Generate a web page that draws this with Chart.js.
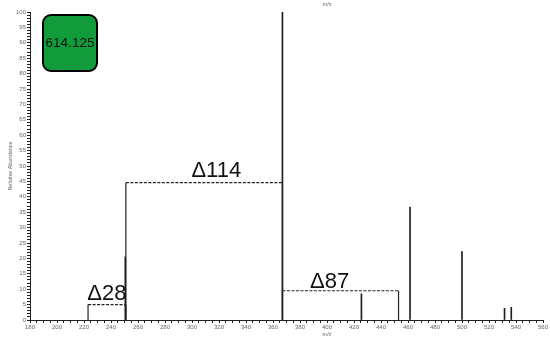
<!DOCTYPE html>
<html>
<head>
<meta charset="utf-8">
<script src="https://cdn.jsdelivr.net/npm/chart.js@4.4.0/dist/chart.umd.min.js"></script>
<style>
  html, body { margin: 0; padding: 0; background: #fff; }
  #wrap { width: 550px; height: 337px; }
</style>
</head>
<body>
<div id="wrap"><canvas id="spectrum"></canvas></div>
<script>
// --- spectrum data (m/z vs relative abundance) ---
const peakMz = [250.6, 367, 425.5, 461.5, 500, 531.5, 536.5];
const peakAbund = [20.5, 100, 8.5, 36.7, 22.2, 3.8, 4.1];

// --- mass-difference brackets ---
const bracketFrom = [223, 251, 367];
const bracketTo = [251, 367, 453];
const bracketLevel = [5, 44.6, 9.5];
const bracketText = ['Δ28', 'Δ114', 'Δ87'];
const bracketTextMz = [237, 318, 402];
const bracketTextY = [6.5, 46.3, 10.5];

const precursorLabel = '614.125';
const xMin = 180, xMax = 560, xStep = 5, xLabelEvery = 20;
const yMin = 0, yMax = 100, yStep = 1, yLabelEvery = 5;

const FONT = "'Liberation Sans', Arial, sans-serif";

const datasets = [{
    type: 'bar',
    data: peakMz.map((m, i) => ({ x: m, y: peakAbund[i] })),
    backgroundColor: '#1e1e1e',
    barThickness: 1,
    order: 2
}];

bracketFrom.forEach(function(f, i) {
    datasets.push({
        type: 'line',
        data: [
            { x: f, y: 0 }, { x: f, y: bracketLevel[i] },
            { x: bracketTo[i], y: bracketLevel[i] }, { x: bracketTo[i], y: 0 }
        ],
        borderColor: '#222',
        borderWidth: 1.2,
        pointRadius: 0,
        fill: false,
        tension: 0,
        segment: {
            borderDash: ctx => ctx.p0DataIndex === 1 ? [3, 1.5] : undefined
        },
        order: 1
    });
});

// texts: deltas, box, axis titles
const annotations = {
    id: 'annotations',
    afterDraw(chart) {
        const c = chart.ctx, xs = chart.scales.x, ys = chart.scales.y, area = chart.chartArea;
        c.save();
        c.fillStyle = '#111';
        c.font = '22px ' + FONT;
        c.textAlign = 'center';
        c.textBaseline = 'alphabetic';
        bracketText.forEach(function(t, i) {
            c.fillText(t, xs.getPixelForValue(bracketTextMz[i]), ys.getPixelForValue(bracketTextY[i]));
        });

        // precursor box
        const bx = 43, by = 15, bw = 54, bh = 56, r = 8;
        c.beginPath();
        c.roundRect(bx, by, bw, bh, r);
        c.fillStyle = '#119b3b';
        c.fill();
        c.lineWidth = 2;
        c.strokeStyle = '#000';
        c.stroke();
        c.fillStyle = '#111';
        c.font = '13.5px ' + FONT;
        c.textBaseline = 'middle';
        c.fillText(precursorLabel, bx + bw / 2, by + bh / 2);

        // axis titles
        c.fillStyle = '#666';
        c.font = '5.5px ' + FONT;
        const mzX = xs.getPixelForValue(400);
        c.fillText('m/z', mzX, 4);
        c.fillText('m/z', mzX, 334);
        c.translate(10, (area.top + area.bottom) / 2);
        c.rotate(-Math.PI / 2);
        c.fillText('Relative Abundance', 0, 0);
        c.restore();
    }
};

new Chart(document.getElementById('spectrum'), {
    data: { datasets: datasets },
    options: {
        responsive: true,
        maintainAspectRatio: false,
        animation: false,
        layout: { padding: { top: 12, right: 7, left: 0, bottom: 0 } },
        plugins: { legend: { display: false }, tooltip: { enabled: false } },
        scales: {
            x: {
                type: 'linear',
                min: xMin, max: xMax,
                offset: false,
                afterFit: s => { s.height = 17; },
                border: { color: '#222', width: 1 },
                grid: { drawOnChartArea: false, offset: false, tickLength: 3, color: '#222' },
                ticks: {
                    stepSize: xStep,
                    autoSkip: false,
                    maxRotation: 0,
                    padding: 1,
                    color: '#666',
                    font: { family: FONT, size: 6 },
                    callback: v => v % xLabelEvery === 0 ? v : ''
                }
            },
            y: {
                min: yMin, max: yMax,
                afterFit: s => { s.width = 30; },
                border: { color: '#222', width: 1 },
                grid: { drawOnChartArea: false, tickLength: 3, color: '#222' },
                ticks: {
                    stepSize: yStep,
                    autoSkip: false,
                    padding: 1,
                    color: '#666',
                    font: { family: FONT, size: 6 },
                    callback: v => v % yLabelEvery === 0 ? v : ''
                }
            }
        }
    },
    plugins: [annotations]
});
</script>
</body>
</html>
